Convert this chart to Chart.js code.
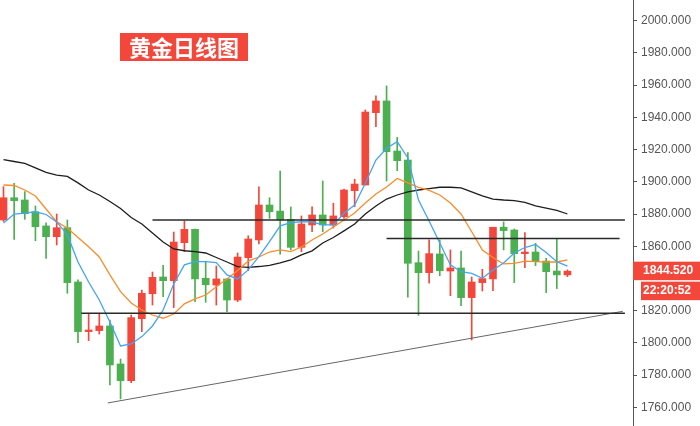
<!DOCTYPE html>
<html><head><meta charset="utf-8">
<script src="https://cdn.jsdelivr.net/npm/chart.js@4.4.0/dist/chart.umd.min.js"></script>
<style>html,body{margin:0;padding:0;background:#fff;overflow:hidden}#wrap{position:relative;width:700px;height:426px}</style>
</head><body><div id="wrap"><canvas id="c" width="700" height="426"></canvas></div>
<script>
// ---- data ----
const openP  = [1876.3,1890.1,1888.7,1881.4,1872.6,1865.9,1871.5,1837.8,1807.0,1807.6,1810.5,1786.9,1776.5,1815.0,1830.5,1840.9,1838.6,1862.2,1870.5,1840.1,1835.9,1839.7,1826.6,1852.9,1863.9,1885.6,1881.8,1876.7,1859.3,1873.2,1879.4,1873.2,1878.3,1894.5,1898.0,1942.9,1950.2,1919.1,1913.5,1849.8,1843.6,1855.2,1844.6,1846.5,1828.1,1837.4,1839.7,1871.8,1870.1,1855.4,1856.4,1850.8,1844.6,1842.2];
const highP  = [1897.0,1899.1,1893.9,1885.0,1874.6,1880.0,1876.3,1839.1,1818.4,1818.4,1814.2,1790.0,1817.3,1832.8,1844.0,1848.2,1868.8,1875.7,1870.7,1850.2,1847.7,1839.9,1855.8,1866.5,1896.8,1890.1,1906.7,1884.4,1878.8,1884.4,1900.5,1886.7,1895.5,1901.6,1944.6,1953.4,1959.5,1927.6,1918.1,1857.0,1863.9,1863.9,1857.7,1857.0,1840.9,1845.7,1871.8,1875.1,1870.7,1868.4,1861.8,1852.5,1864.3,1845.3];
const lowP   = [1875.4,1864.3,1876.7,1863.4,1852.5,1860.8,1830.8,1800.1,1801.4,1805.5,1773.9,1765.2,1775.3,1807.0,1823.5,1828.7,1821.9,1856.6,1825.6,1825.2,1823.5,1819.4,1825.6,1844.8,1861.4,1877.3,1855.0,1857.7,1856.6,1869.0,1869.0,1871.3,1877.3,1884.5,1898.0,1934.2,1900.5,1906.9,1828.3,1817.1,1837.0,1841.7,1829.3,1823.1,1801.8,1832.2,1832.4,1857.7,1837.4,1846.7,1847.9,1831.2,1833.7,1841.1];
const closeP = [1890.1,1888.3,1880.2,1872.1,1865.9,1871.5,1837.4,1807.0,1808.0,1810.5,1786.3,1776.5,1815.7,1830.8,1840.7,1838.6,1862.6,1870.5,1839.7,1836.1,1839.7,1826.6,1853.3,1864.5,1885.6,1881.4,1876.3,1859.3,1873.8,1879.4,1873.2,1878.8,1894.9,1898.6,1943.3,1950.2,1918.7,1913.1,1849.4,1843.6,1855.4,1844.8,1846.5,1828.1,1837.8,1839.9,1871.8,1869.7,1855.4,1856.4,1850.4,1844.2,1842.2,1844.52];
const maBlue   = [1874.4,1880.0,1880.6,1881.4,1879.7,1875.1,1867.0,1850.2,1837.8,1826.6,1813.0,1798.1,1799.3,1803.9,1810.5,1820.4,1836.6,1848.4,1850.4,1850.4,1849.8,1842.2,1839.7,1845.3,1853.5,1862.8,1872.6,1874.6,1875.2,1875.1,1873.2,1873.2,1880.5,1885.6,1899.1,1913.5,1920.8,1924.9,1914.8,1888.7,1875.7,1862.0,1848.4,1844.2,1843.1,1840.1,1845.3,1849.6,1855.8,1859.2,1861.1,1856.1,1850.4,1847.7];
const maOrange = [1898.0,1897.7,1894.9,1891.2,1883.1,1875.1,1871.3,1865.4,1859.7,1853.3,1842.2,1831.8,1824.8,1820.4,1817.3,1815.3,1817.9,1824.2,1827.3,1829.7,1834.9,1839.7,1844.9,1850.8,1853.3,1856.4,1857.7,1856.6,1859.5,1863.9,1867.6,1871.9,1876.3,1880.6,1886.8,1892.4,1896.8,1902.1,1899.3,1896.5,1894.6,1891.8,1886.8,1880.0,1869.0,1857.7,1853.0,1849.0,1849.3,1850.8,1850.4,1850.2,1850.2,1851.5];
const maBlack  = [1913.8,1912.6,1911.4,1908.6,1905.8,1904.2,1903.3,1899.3,1894.9,1891.8,1887.8,1883.4,1877.8,1873.8,1868.2,1862.6,1858.3,1857.2,1856.6,1855.8,1853.0,1850.2,1847.3,1846.9,1847.4,1848.1,1849.6,1851.5,1854.6,1857.1,1862.0,1865.4,1869.5,1873.8,1880.0,1885.0,1889.3,1891.8,1893.7,1894.9,1895.8,1896.6,1896.6,1896.2,1893.7,1891.2,1889.3,1888.7,1888.3,1887.2,1885.0,1883.7,1882.2,1880.0];
const levelValues = [1876.3, 1864.8, 1818.4];
const levelStart  = [14.0, 36.0, 7.3];
const levelEnd    = [58.4, 57.9, 58.4];
const trendX = [9.8, 58.2];
const trendY = [1762.7, 1819.6];
const yTicks = [1760,1780,1800,1820,1860,1880,1900,1920,1940,1960,1980,2000];
const titleText = '黄金日线图';
const timeLabel = '22:20:52';

const RED = '#f4473b', GREEN = '#4caf50';
const idx = openP.map((_, i) => i);
const colors = idx.map(i => closeP[i] >= openP[i] ? RED : GREEN);

const datasets = [
  { type:'line', data: idx.map(i=>({x:i,y:maBlue[i]})), borderColor:'#42a5f5', borderWidth:1.3, pointRadius:0, tension:0, order:1 },
  { type:'line', data: idx.map(i=>({x:i,y:maOrange[i]})), borderColor:'#fb8c2b', borderWidth:1.3, pointRadius:0, tension:0, order:1 },
  { type:'line', data: idx.map(i=>({x:i,y:maBlack[i]})), borderColor:'#1e1e1e', borderWidth:1.3, pointRadius:0, tension:0, order:1 },
];
levelValues.forEach((v, k) => datasets.push({ type:'line', data:[{x:levelStart[k],y:v},{x:levelEnd[k],y:v}], borderColor:'#2a2a2a', borderWidth:1.5, pointRadius:0, order:0 }));
datasets.push({ type:'line', data: trendX.map((x,k)=>({x, y:trendY[k]})), borderColor:'#666', borderWidth:1, pointRadius:0, order:0 });
datasets.push({ type:'bar', data: idx.map(i=>({x:i, y:[lowP[i], highP[i]]})), backgroundColor:colors, barThickness:1, grouped:false, order:3 });
datasets.push({ type:'bar', data: idx.map(i=>({x:i, y:[openP[i], closeP[i]]})), backgroundColor:colors, barThickness:7, grouped:false, order:2, minBarLength:1 });

const labelsPlugin = {
  id:'labels',
  afterDraw(chart){
    const ctx = chart.ctx, ys = chart.scales.y;
    ctx.save();
    ctx.fillStyle = RED;
    ctx.fillRect(120, 33, 128, 28);
    ctx.fillStyle = '#fff';
    ctx.font = 'bold 22px "Noto Sans CJK SC"';
    ctx.textAlign = 'center'; ctx.textBaseline = 'middle';
    ctx.fillText(titleText, 184, 47.5);
    const last = closeP[closeP.length-1];
    const py = ys.getPixelForValue(last);
    ctx.fillStyle = RED;
    ctx.fillRect(633, py-9.5, 67, 18.5);
    ctx.fillRect(641, py+10.5, 59, 18.5);
    ctx.fillStyle = '#fff';
    ctx.font = 'bold 12px "Liberation Sans"';
    ctx.textAlign = 'left';
    ctx.fillText(last.toFixed(3), 643, py);
    ctx.fillText(timeLabel, 643, py+20);
    ctx.restore();
  }
};

new Chart(document.getElementById('c'), {
  type:'bar',
  data:{ datasets },
  options:{
    responsive:false, animation:false, devicePixelRatio:1,
    layout:{ padding:0 },
    plugins:{ legend:{display:false}, tooltip:{enabled:false} },
    scales:{
      x:{ type:'linear', min:-0.33, max:59.16, display:false, offset:false, grid:{offset:false} },
      y:{ position:'right', min:1748.4, max:2012.85,
          afterBuildTicks: s => { s.ticks = yTicks.map(v=>({value:v})); },
          afterFit: s => { s.width = 67; s.paddingTop = 0; s.paddingBottom = 0; },
          grid:{ drawOnChartArea:false, drawTicks:true, tickLength:4, color:'#555' },
          border:{ color:'#555' },
          ticks:{ color:'#555', padding:4, font:{ size:12, family:'Liberation Sans' }, callback: v => Number(v).toFixed(3) } }
    }
  },
  plugins:[labelsPlugin]
});
</script></body></html>
